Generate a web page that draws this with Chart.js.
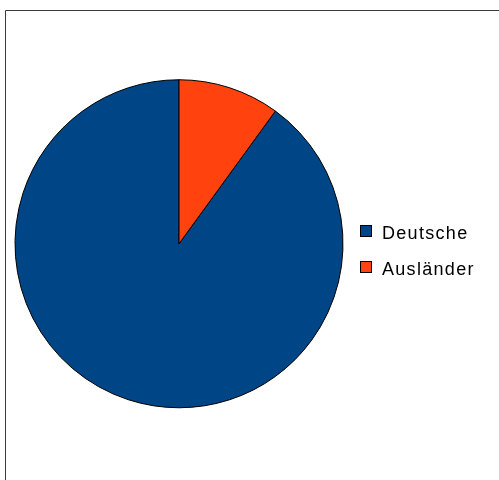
<!DOCTYPE html>
<html>
<head>
<meta charset="utf-8">
<script src="https://cdn.jsdelivr.net/npm/chart.js@4/dist/chart.umd.min.js"></script>
<style>
html,body{margin:0;padding:0;background:#fff;}
#wrap{position:relative;width:499px;height:480px;}
</style>
</head>
<body>
<div id="wrap"><canvas id="c" width="499" height="480"></canvas></div>
<script>
const categories = ['Deutsche', 'Ausländer'];
const shares = [90, 10];
const colors = ['#004586', '#ff420e'];

const framePlugin = {
  id: 'frame',
  beforeDraw(chart) {
    const ctx = chart.ctx;
    ctx.save();
    ctx.fillStyle = '#fff';
    ctx.fillRect(0, 0, chart.width, chart.height);
    ctx.strokeStyle = '#3a3a3a';
    ctx.lineWidth = 1;
    ctx.beginPath();
    ctx.moveTo(5.5, chart.height);
    ctx.lineTo(5.5, 10.5);
    ctx.lineTo(chart.width, 10.5);
    ctx.stroke();
    ctx.restore();
  }
};

const legendPlugin = {
  id: 'sideLegend',
  afterDraw(chart) {
    const ctx = chart.ctx;
    const labels = chart.data.labels;
    const bg = chart.data.datasets[0].backgroundColor;
    ctx.save();
    ctx.font = '18px "Liberation Sans", Arial, sans-serif';
    ctx.textBaseline = 'alphabetic';
    ctx.letterSpacing = '1.3px';
    labels.forEach((lab, i) => {
      const y = 226 + i * 36;
      ctx.fillStyle = bg[i];
      ctx.fillRect(361, y, 10, 10);
      ctx.strokeStyle = '#000';
      ctx.lineWidth = 1;
      ctx.strokeRect(360.5, y - 0.5, 11, 11);
      ctx.fillStyle = '#000';
      ctx.fillText(lab, 382, y + 13);
    });
    ctx.restore();
  }
};

new Chart(document.getElementById('c'), {
  type: 'pie',
  data: {
    labels: categories,
    datasets: [{
      data: shares,
      backgroundColor: colors,
      borderColor: '#000',
      borderWidth: 1
    }]
  },
  options: {
    responsive: false,
    animation: false,
    rotation: 36,
    layout: { padding: { left: 14.5, top: 79, right: 155.5, bottom: 71.5 } },
    plugins: {
      legend: { display: false },
      tooltip: { enabled: false }
    }
  },
  plugins: [framePlugin, legendPlugin]
});
</script>
</body>
</html>
